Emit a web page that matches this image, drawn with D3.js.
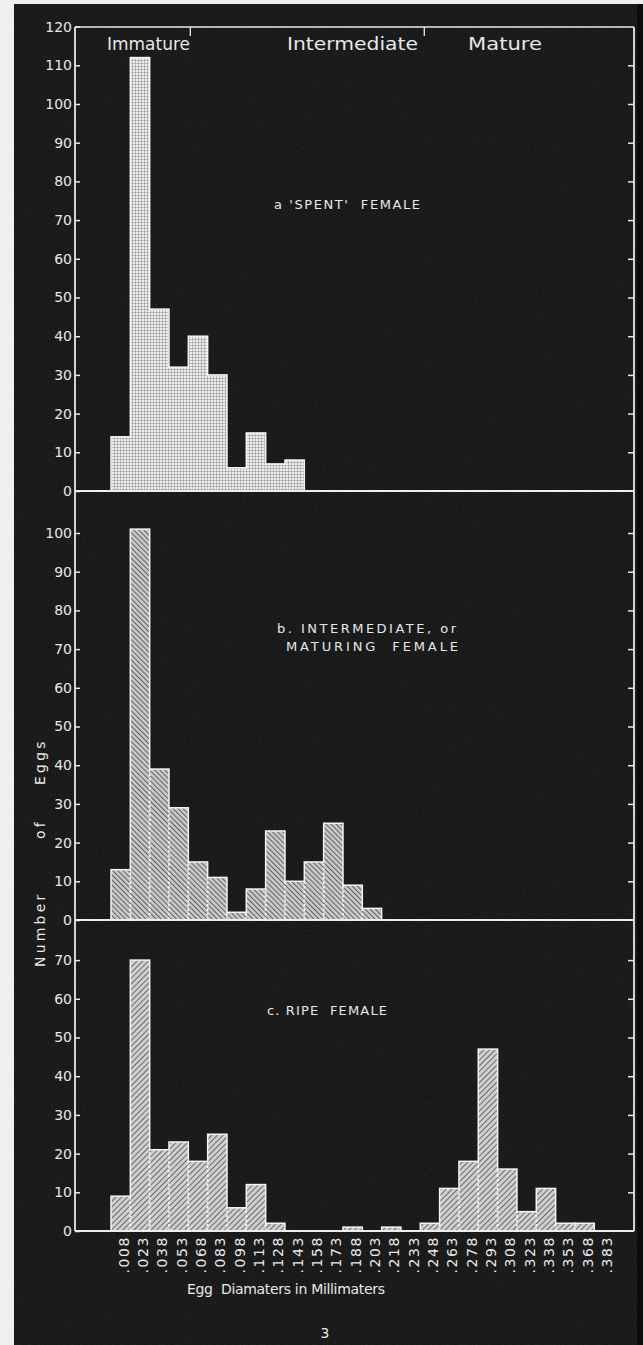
<!DOCTYPE html>
<html>
<head>
<meta charset="utf-8">
<script src="https://cdn.jsdelivr.net/npm/d3@7"></script>
<style>
  html, body { margin: 0; padding: 0; background: #1b1b1b; }
  svg { display: block; }
  text { font-family: "DejaVu Sans", "Noto Sans", sans-serif; fill: #e8e8e8; }
</style>
</head>
<body>
<svg id="chart" width="643" height="1345"></svg>
<script>
// Egg diameter classes (mm)
const diameters = [".008", ".023", ".038", ".053", ".068", ".083", ".098", ".113", ".128",
  ".143", ".158", ".173", ".188", ".203", ".218", ".233", ".248", ".263", ".278", ".293",
  ".308", ".323", ".338", ".353", ".368", ".383"];

// Number of eggs per diameter class
const spentCounts    = [14, 112, 47, 32, 40, 30, 6, 15, 7, 8, 0, 0, 0, 0, 0, 0, 0, 0, 0, 0, 0, 0, 0, 0, 0, 0];
const maturingCounts = [13, 101, 39, 29, 15, 11, 2, 8, 23, 10, 15, 25, 9, 3, 0, 0, 0, 0, 0, 0, 0, 0, 0, 0, 0, 0];
const ripeCounts     = [9, 70, 21, 23, 18, 25, 6, 12, 2, 0, 0, 0, 1, 0, 1, 0, 2, 11, 18, 47, 16, 5, 11, 2, 2, 0];

// Axis tick values for each panel
const spentTicks    = [0, 10, 20, 30, 40, 50, 60, 70, 80, 90, 100, 110, 120];
const maturingTicks = [0, 10, 20, 30, 40, 50, 60, 70, 80, 90, 100];
const ripeTicks     = [0, 10, 20, 30, 40, 50, 60, 70];

// Maturity stage headings and the class where each stage ends
const stageNames = ["Immature", "Intermediate", "Mature"];
const stageEnds  = [".068", ".248"];

(function () {
const svg = d3.select("#chart");
const W = 643, H = 1345;
const frameL = 75, frameR = 634, frameT = 27, frameB = 1231;
const unit = 3.87; // pixels per egg

const defs = svg.append("defs");

// photographic grain for the dark plate
const grain = defs.append("filter").attr("id", "grain").attr("x", 0).attr("y", 0).attr("width", 1).attr("height", 1);
grain.append("feTurbulence").attr("type", "fractalNoise").attr("baseFrequency", 0.9).attr("numOctaves", 2).attr("seed", 3);
grain.append("feColorMatrix").attr("type", "matrix")
  .attr("values", "0 0 0 0 1  0 0 0 0 1  0 0 0 0 1  0 0 0 0.9 -0.35");

// page background: dark plate with light paper margin
svg.append("rect").attr("width", W).attr("height", H).attr("fill", "#181818");
svg.append("rect").attr("width", W).attr("height", H).attr("filter", "url(#grain)").attr("opacity", 0.12);
svg.append("rect").attr("x", 0).attr("y", 0).attr("width", 14).attr("height", H).attr("fill", "#efefef");
svg.append("rect").attr("x", 0).attr("y", 0).attr("width", W).attr("height", 4).attr("fill", "#efefef");
svg.append("rect").attr("x", 637).attr("y", 4).attr("width", 6).attr("height", H).attr("fill", "#0c0c0c");

// fill patterns
function hatch(id, angle, base, ink, gap) {
  const p = defs.append("pattern").attr("id", id).attr("patternUnits", "userSpaceOnUse")
    .attr("width", gap).attr("height", gap).attr("patternTransform", `rotate(${angle})`);
  p.append("rect").attr("width", gap).attr("height", gap).attr("fill", base);
  p.append("line").attr("x1", 0.5).attr("y1", 0).attr("x2", 0.5).attr("y2", gap)
    .attr("stroke", ink).attr("stroke-width", 1);
}
hatch("hatchBack", -45, "#cacaca", "#5e5e5e", 3.6);
hatch("hatchFwd", 45, "#cfcfcf", "#6a6a6a", 4);
const grid = defs.append("pattern").attr("id", "crossGrid").attr("patternUnits", "userSpaceOnUse")
  .attr("width", 3).attr("height", 3);
grid.append("rect").attr("width", 3).attr("height", 3).attr("fill", "#efefef");
grid.append("path").attr("d", "M0,0.5H3M0.5,0V3").attr("stroke", "#a0a0a0").attr("stroke-width", 0.7);

const x = d3.scaleBand().domain(diameters).range([111, 613.6]).padding(0);

const panels = [
  { counts: spentCounts, ticks: spentTicks, base: 491, fill: "url(#crossGrid)", dashed: false,
    title: ["a 'SPENT'  FEMALE"], tx: 274, ty: [209], tw: [146] },
  { counts: maturingCounts, ticks: maturingTicks, base: 920, fill: "url(#hatchBack)", dashed: true,
    title: ["b. INTERMEDIATE, or", "MATURING  FEMALE"], tx: 277, ty: [633, 651], tw: [179, 172] },
  { counts: ripeCounts, ticks: ripeTicks, base: 1231, fill: "url(#hatchFwd)", dashed: true,
    title: ["c. RIPE  FEMALE"], tx: 267, ty: [1015], tw: [120] }
];

panels.forEach((p, pi) => {
  const maxV = p.ticks[p.ticks.length - 1];
  const y = d3.scaleLinear().domain([0, maxV]).range([p.base, p.base - maxV * unit]);
  const g = svg.append("g");

  const data = diameters.map((d, i) => ({ d, v: p.counts[i], i })).filter(e => e.v > 0);

  // bars
  g.selectAll("rect.bar").data(data).join("rect").attr("class", "bar")
    .attr("x", e => x(e.d)).attr("width", x.bandwidth())
    .attr("y", e => y(e.v)).attr("height", e => y(0) - y(e.v))
    .attr("fill", p.fill).attr("stroke", "#f4f4f4").attr("stroke-width", 1.5);

  // shared edges between neighbouring bars
  const shared = [];
  for (let i = 1; i < diameters.length; i++) {
    const a = p.counts[i - 1], b = p.counts[i];
    if (a > 0 && b > 0) shared.push({ d: diameters[i], v: Math.min(a, b) });
  }
  g.selectAll("line.cover").data(shared).join("line").attr("class", "cover")
    .attr("x1", e => x(e.d)).attr("x2", e => x(e.d))
    .attr("y1", y(0) - 1).attr("y2", e => y(e.v) + 1)
    .attr("stroke", p.fill).attr("stroke-width", 2.2);
  if (p.dashed) {
    g.selectAll("line.sep").data(shared).join("line").attr("class", "sep")
      .attr("x1", e => x(e.d)).attr("x2", e => x(e.d))
      .attr("y1", y(0)).attr("y2", e => y(e.v))
      .attr("stroke", "#f6f6f6").attr("stroke-width", 1.5).attr("stroke-dasharray", "2.5,2");
  }

  // left axis with inward ticks
  const axL = d3.axisLeft(y).tickValues(p.ticks).tickSize(-5).tickPadding(3).tickFormat(d3.format("d"));
  const gl = svg.append("g").attr("transform", `translate(${frameL},0)`).call(axL);
  gl.select(".domain").remove();
  gl.selectAll("line").attr("stroke", "#e8e8e8").attr("stroke-width", 1.5);
  gl.selectAll("text").attr("font-size", 14).attr("fill", "#e8e8e8")
    .attr("font-family", '"DejaVu Sans", sans-serif');

  // right axis: ticks only
  const axR = d3.axisRight(y).tickValues(p.ticks.filter(t => t > 0 && (pi === 0 ? t < maxV : true)))
    .tickSize(-6).tickFormat("");
  const gr = svg.append("g").attr("transform", `translate(${frameR},0)`).call(axR);
  gr.select(".domain").remove();
  gr.selectAll("line").attr("stroke", "#e8e8e8").attr("stroke-width", 1.5);

  // baseline across the panel
  svg.append("line").attr("x1", frameL).attr("x2", frameR).attr("y1", p.base).attr("y2", p.base)
    .attr("stroke", "#ededed").attr("stroke-width", 1.8);

  // panel title
  p.title.forEach((t, k) => {
    svg.append("text").attr("x", p.tx + (k === 1 ? 9 : 0)).attr("y", p.ty[k])
      .attr("font-size", 13).attr("textLength", p.tw[k]).attr("lengthAdjust", "spacing")
      .style("white-space", "pre").text(t);
  });
});

// frame
svg.append("line").attr("x1", frameL).attr("x2", frameR).attr("y1", frameT).attr("y2", frameT)
  .attr("stroke", "#e8e8e8").attr("stroke-width", 1.5);
svg.append("line").attr("x1", frameL).attr("x2", frameL).attr("y1", frameT).attr("y2", frameB)
  .attr("stroke", "#e8e8e8").attr("stroke-width", 1.8);
svg.append("line").attr("x1", frameR).attr("x2", frameR).attr("y1", frameT).attr("y2", frameB)
  .attr("stroke", "#e8e8e8").attr("stroke-width", 1.8);

// stage headings along the top
const stageX = [107, 287, 468], stageW = [83, 131, 74];
stageNames.forEach((s, i) => {
  svg.append("text").attr("x", stageX[i]).attr("y", 50).attr("font-size", 18)
    .attr("textLength", stageW[i]).attr("lengthAdjust", "spacingAndGlyphs").text(s);
});
stageEnds.forEach((d, i) => {
  const xx = x(d) + (i === 0 ? 2 : 4);
  svg.append("line").attr("x1", xx).attr("x2", xx).attr("y1", frameT).attr("y2", frameT + 9)
    .attr("stroke", "#e8e8e8").attr("stroke-width", 1.3);
});

// x tick labels under the bottom panel
const axX = d3.axisBottom(x).tickSize(0).tickPadding(0);
const gx = svg.append("g").attr("transform", `translate(0,${frameB})`).call(axX);
gx.select(".domain").remove();
gx.selectAll("text")
  .attr("transform", "translate(3,5) rotate(-90)")
  .attr("x", 0).attr("y", 0).attr("dy", "0.35em")
  .attr("text-anchor", "end").attr("font-size", 14).attr("letter-spacing", 1.6)
  .attr("fill", "#e8e8e8").attr("font-family", '"DejaVu Sans", sans-serif');

// axis titles
svg.append("text").attr("x", 187).attr("y", 1294).attr("font-size", 14)
  .attr("textLength", 198).attr("lengthAdjust", "spacing").style("white-space", "pre")
  .text("Egg  Diamaters in Millimaters");
const yt = svg.append("text").attr("transform", "translate(45,967) rotate(-90)").attr("font-size", 14)
  .attr("letter-spacing", 3.2);
yt.append("tspan").attr("x", 0).text("Number");
yt.append("tspan").attr("x", 128).text("of");
yt.append("tspan").attr("x", 182).text("Eggs");

// plate number
svg.append("text").attr("x", 325).attr("y", 1338).attr("font-size", 14).attr("text-anchor", "middle").text("3");
})();
</script>
</body>
</html>
